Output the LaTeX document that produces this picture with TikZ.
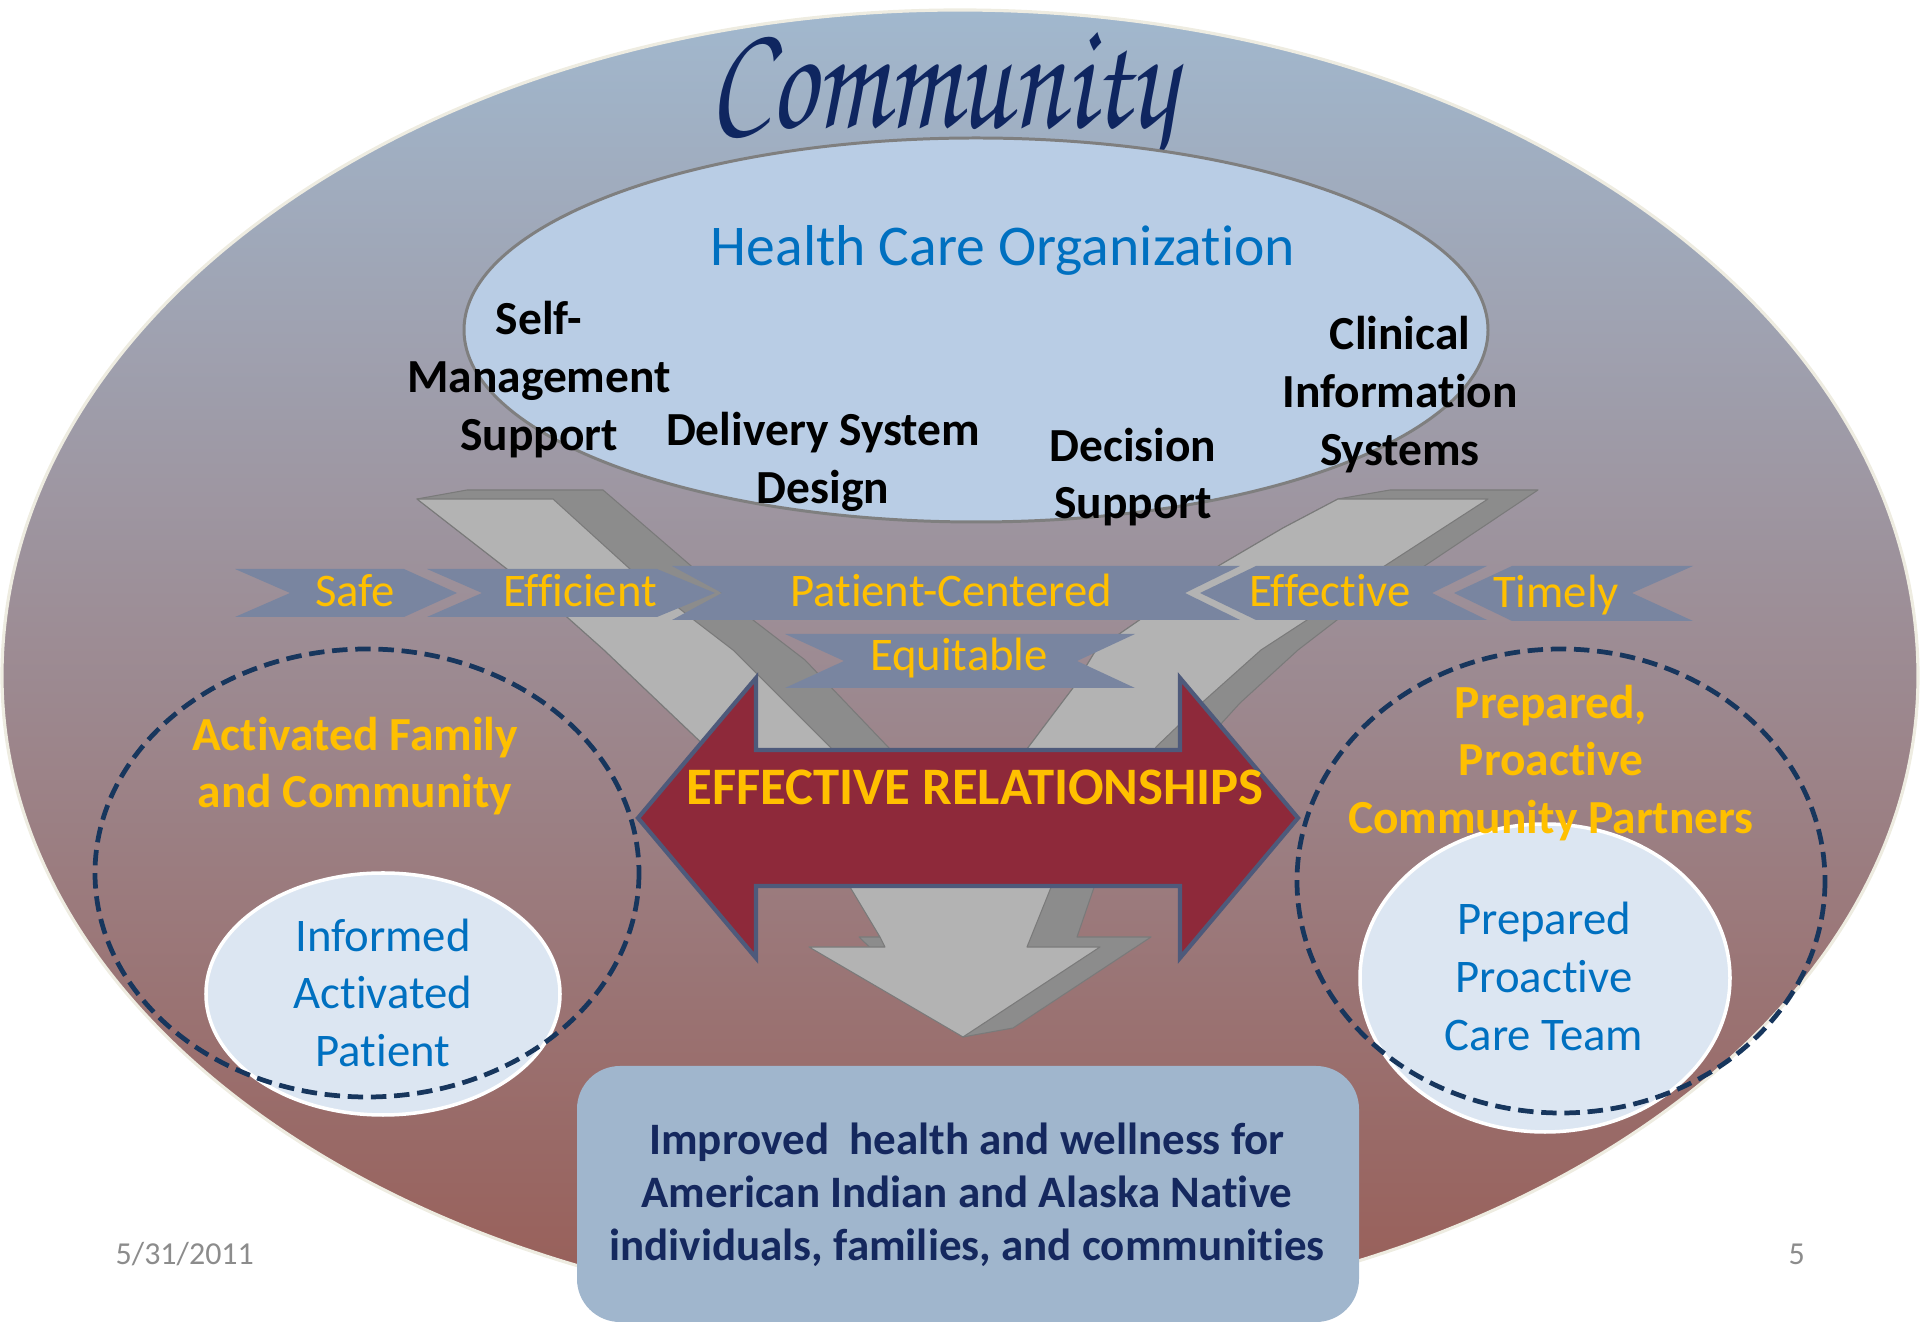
\documentclass[tikz,border=0pt]{standalone}
\usepackage{graphicx}
\usepackage{fontspec}
\setmainfont[Ligatures=CommonOff]{Carlito}
\newfontfamily\scriptface{texgyrechorus-mediumitalic.otf}

\definecolor{outerTop}{HTML}{A1B8CE}
\definecolor{outerMid}{HTML}{9D98A7}
\definecolor{outerBot}{HTML}{985D56}
\definecolor{rim}{HTML}{EEECE1}
\definecolor{hcoFill}{HTML}{B9CDE5}
\definecolor{hcoLine}{HTML}{7F7F7F}
\definecolor{grayLight}{HTML}{B3B3B3}
\definecolor{grayDark}{HTML}{8C8C8C}
\definecolor{grayEdge}{HTML}{7A7A7A}
\definecolor{bandFill}{HTML}{7985A0}
\definecolor{gold}{HTML}{FFC000}
\definecolor{blueTxt}{HTML}{0070C0}
\definecolor{redFill}{HTML}{8E293A}
\definecolor{redLine}{HTML}{4E5A7B}
\definecolor{dashNavy}{HTML}{17365D}
\definecolor{pale}{HTML}{DCE6F2}
\definecolor{boxFill}{HTML}{A0B6CD}
\definecolor{boxText}{HTML}{15285E}
\definecolor{dateGray}{HTML}{8C8C8C}
\definecolor{titleNavy}{HTML}{0F2660}

\begin{document}
\begin{tikzpicture}[x=0.1mm,y=-0.1mm,
  lightface/.style={fill=grayLight, draw=grayEdge, line width=0.3pt, line join=round},
  darkface/.style={fill=grayDark, draw=grayEdge, line width=0.3pt, line join=round},
  chev/.style={fill=bandFill},
  bandtxt/.style={anchor=base, inner sep=0pt, text=gold, font=\fontsize{13.3}{16}\selectfont},
  pillar/.style={anchor=base, inner sep=0pt, text=black, font=\bfseries\fontsize{13.5}{16}\selectfont},
  goldhead/.style={anchor=base, inner sep=0pt, text=gold, font=\bfseries\fontsize{13.5}{16}\selectfont},
  bluetxt/.style={anchor=base, inner sep=0pt, text=blueTxt, font=\fontsize{13.3}{16}\selectfont},
  dashring/.style={draw=dashNavy, line width=1.35pt, dash pattern=on 4.4pt off 2.2pt},
  paleoval/.style={fill=pale, draw=white, line width=1pt},
  outcome/.style={anchor=base, inner sep=0pt, text=boxText, font=\bfseries\fontsize{12.8}{15}\selectfont},
  footer/.style={anchor=base west, inner sep=0pt, text=dateGray, font=\fontsize{9.1}{11}\selectfont}
]
\useasboundingbox (0,0) rectangle (1920,1322);

% ---------- community: egg-shaped background ----------
\shade[top color=outerTop, middle color=outerMid, bottom color=outerBot]
  (2,676) arc[start angle=180, end angle=360, x radius=958, y radius=666]
          arc[start angle=0, end angle=180, x radius=958, y radius=643] -- cycle;
\draw[rim, line width=0.9pt]
  (2,676) arc[start angle=180, end angle=360, x radius=958, y radius=666]
          arc[start angle=0, end angle=180, x radius=958, y radius=643] -- cycle;

\node[anchor=base west, inner sep=0pt, text=titleNavy] (title) at (709,128)
  {\resizebox{46.6mm}{9.5mm}{\scriptface Community}};

% ---------- health care organization ----------
\coordinate (hco) at (976,330);
\draw[fill=hcoFill, draw=hcoLine, line width=0.85pt] (hco) ellipse[x radius=512, y radius=192];

% ---------- converging grey arrows ----------
% left arm
\path[darkface] (417,499) -- (467,490) -- (603,490) -- (690,565) -- (753,620) -- (805,660)
  -- (889,748) -- (930,830) -- (790,830) -- (707,748) -- (604,650) -- (567,617) -- (507,569) -- cycle;
\path[lightface] (417,499) -- (553,499) -- (630,569) -- (690,617) -- (733,650) -- (831,748)
  -- (870,830) -- (790,830) -- (707,748) -- (604,650) -- (567,617) -- (507,569) -- cycle;
% right arm
\path[darkface] (1338,499) -- (1390,490) -- (1538,490) -- (1423,567) -- (1337,620) -- (1298,650)
  -- (1240,703) -- (1200,747) -- (1160,830) -- (1040,830) -- (1027,749) -- (1073,688) -- (1096,650)
  -- (1157,608) -- (1220,565) -- (1283,528) -- cycle;
\path[lightface] (1338,499) -- (1488,499) -- (1383,567) -- (1307,620) -- (1261,650) -- (1205,700)
  -- (1156,747) -- (1120,830) -- (1040,830) -- (1027,749) -- (1073,688) -- (1096,650)
  -- (1157,608) -- (1220,565) -- (1283,528) -- cycle;
% merged stem and head
\path[darkface] (845,870) -- (1100,870) -- (1077,937) -- (1151,937) -- (1013,1028) -- (963,1037)
  -- (859,937) -- (880,937) -- cycle;
\path[lightface] (845,870) -- (1058,870) -- (1027,947) -- (1100,947) -- (963,1037) -- (809,947)
  -- (885,947) -- (880,937) -- (850,887) -- cycle;

% ---------- organisation labels ----------
\node[anchor=base, inner sep=0pt, text=blueTxt, font=\fontsize{16.4}{20}\selectfont] (hcot) at (1003,266) {Health Care Organization};

\node[pillar] (sms1) at (539,335) {Self-};
\node[pillar] (sms2) at (539,393) {Management};
\node[pillar] (sms3) at (539,451) {Support};
\node[pillar] (dsd1) at (823,446) {Delivery System};
\node[pillar] (dsd2) at (823,504) {Design};
\node[pillar] (ds1) at (1133,462) {Decision};
\node[pillar] (ds2) at (1133,519) {Support};
\node[pillar] (cis1) at (1400,350) {Clinical};
\node[pillar] (cis2) at (1400,408) {Information};
\node[pillar] (cis3) at (1400,466) {Systems};

% ---------- quality aims band ----------
\path[chev] (235,569) -- (404,569) -- (457,593) -- (404,617) -- (235,617) -- (290,593) -- cycle;
\path[chev] (427,569) -- (657,569) -- (715,593) -- (657,617) -- (427,617) -- (482,593) -- cycle;
\path[chev] (672,566) -- (1240,566) -- (1185,593) -- (1240,620) -- (672,620) -- (722,593) -- cycle;
\path[chev] (1200,593) -- (1256,566) -- (1487,566) -- (1432,593) -- (1487,620) -- (1256,620) -- cycle;
\path[chev] (1454,593) -- (1512,566) -- (1693,566) -- (1632,593) -- (1693,621) -- (1512,621) -- cycle;
\path[chev] (785,634) -- (1135,634) -- (1077,661) -- (1135,688) -- (785,688) -- (844,661) -- cycle;

\node[bandtxt] (safe) at (355,607) {Safe};
\node[bandtxt] (efficient) at (580,607) {Efficient};
\node[bandtxt] (pcc) at (951,607) {Patient-Centered};
\node[bandtxt] (effective) at (1330,607) {Effective};
\node[bandtxt] (timely) at (1556,608) {Timely};
\node[bandtxt] (equitable) at (959,671) {Equitable};

% ---------- family and community (left) ----------
\coordinate (famring) at (367,873);
\coordinate (patient) at (383,994);
\draw[paleoval] (patient) ellipse[x radius=177, y radius=121];
\node[goldhead] (fam1) at (355,751) {Activated Family};
\node[goldhead] (fam2) at (355,808) {and Community};
\node[bluetxt] (pat1) at (383,952) {Informed};
\node[bluetxt] (pat2) at (383,1009) {Activated};
\node[bluetxt] (pat3) at (383,1067) {Patient};
\draw[dashring] (famring) ellipse[x radius=272, y radius=224];

% ---------- community partners (right) ----------
\coordinate (partring) at (1561,881);
\coordinate (team) at (1545,978);
\draw[paleoval] (team) ellipse[x radius=185, y radius=154];
\node[goldhead] (par1) at (1551,719) {Prepared,};
\node[goldhead] (par2) at (1551,776) {Proactive};
\node[goldhead] (par3) at (1551,834) {Community Partners};
\node[bluetxt] (team1) at (1544,935) {Prepared};
\node[bluetxt] (team2) at (1544,993) {Proactive};
\node[bluetxt] (team3) at (1544,1051) {Care Team};
\draw[dashring] (partring) ellipse[x radius=264, y radius=232];

% ---------- effective relationships double arrow ----------
\draw[fill=redFill, draw=redLine, line width=1.2pt, line join=miter]
  (638,818) -- (756,678) -- (756,750) -- (1180,750) -- (1180,678) -- (1298,818)
  -- (1180,958) -- (1180,886) -- (756,886) -- (756,958) -- cycle;
\node[anchor=base, inner sep=0pt, text=gold, font=\bfseries\fontsize{15}{18}\selectfont] (rel) at (975,805) {EFFECTIVE RELATIONSHIPS};

% ---------- outcome box ----------
\fill[boxFill, rounded corners=4.3mm] (577,1066) rectangle (1359,1322);
\node[outcome] (out1) at (967,1155) {Improved~ health and wellness for};
\node[outcome] (out2) at (967,1208) {American Indian and Alaska Native};
\node[outcome] (out3) at (967,1261) {individuals, families, and communities};

% ---------- footer ----------
\node[footer] (date) at (115,1265) {5/31/2011};
\node[footer] (page) at (1788,1265) {5};
\end{tikzpicture}
\end{document}
